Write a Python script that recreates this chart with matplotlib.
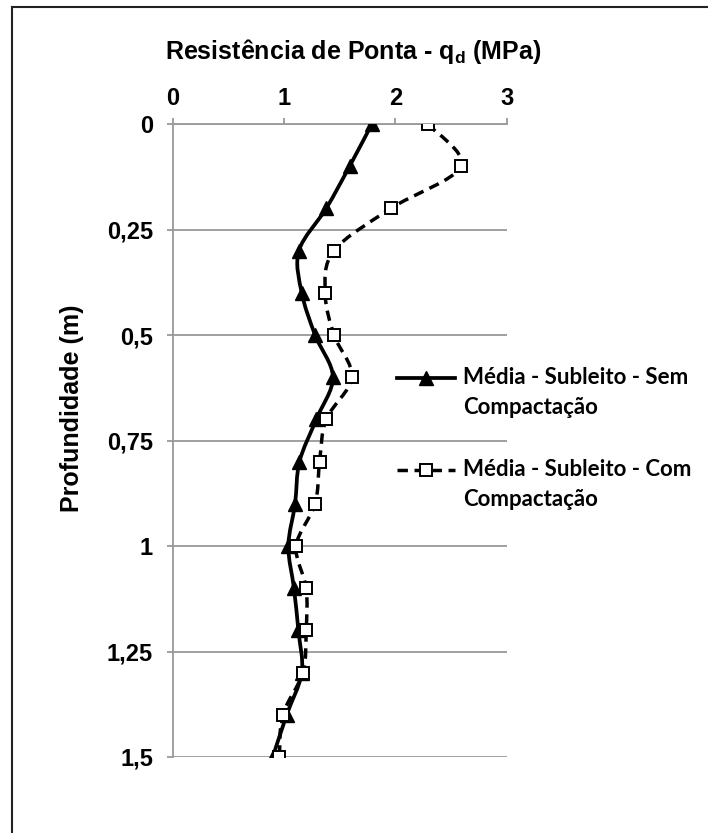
import numpy as np
import matplotlib
matplotlib.use("Agg")
import matplotlib.pyplot as plt
from matplotlib.path import Path
from matplotlib.patches import PathPatch
from matplotlib.lines import Line2D

plt.rcParams['mathtext.fontset'] = 'custom'
plt.rcParams['mathtext.rm'] = 'Liberation Sans:bold'
plt.rcParams['mathtext.bf'] = 'Liberation Sans:bold'
plt.rcParams['mathtext.it'] = 'Liberation Sans:bold'

depth = [0.0, 0.1, 0.2, 0.3, 0.4, 0.5, 0.6, 0.7, 0.8, 0.9, 1.0, 1.1, 1.2, 1.3, 1.4, 1.5]
sem_compactacao = [1.79, 1.59, 1.38, 1.135, 1.16, 1.28, 1.44, 1.29, 1.14, 1.10, 1.04, 1.09, 1.13, 1.16, 1.025, 0.90]
com_compactacao = [2.29, 2.59, 1.96, 1.45, 1.37, 1.45, 1.61, 1.38, 1.32, 1.28, 1.11, 1.20, 1.20, 1.17, 0.99, 0.96]
label_sem = "Média - Subleito - Sem\nCompactação"
label_com = "Média - Subleito - Com\nCompactação"
x_ticks = [0, 1, 2, 3]
y_ticks = [0, 0.25, 0.5, 0.75, 1.0, 1.25, 1.5]
y_ticklabels = ["0", "0,25", "0,5", "0,75", "1", "1,25", "1,5"]

W, H = 708, 833
fig = plt.figure(figsize=(W/100, H/100), dpi=100)
ax = fig.add_axes([172.5/W, 1-757/H, (506.7-172.5)/W, (757-124)/H])

def smooth_path(xs, ys):
    P = np.column_stack([xs, ys]).astype(float)
    n = len(P)
    verts = [P[0]]
    codes = [Path.MOVETO]
    for i in range(n-1):
        p0 = P[i-1] if i > 0 else P[i]
        p1 = P[i]
        p2 = P[i+1]
        p3 = P[i+2] if i+2 < n else P[i+1]
        c1 = p1 + (p2 - p0)/6.0
        c2 = p2 - (p3 - p1)/6.0
        verts += [c1, c2, p2]
        codes += [Path.CURVE4]*3
    return Path(verts, codes)

SOLID = dict(color='black', lw=2.7)
DASH = dict(color='black', lw=2.5, linestyle=(0, (3.0, 1.9)))
TRI = dict(marker='^', ms=9.5, mfc='black', mec='black')
SQ = dict(marker='s', ms=8, mfc='white', mec='black', mew=1.4)

ax.add_patch(PathPatch(smooth_path(sem_compactacao, depth), fill=False,
                       edgecolor='black', lw=SOLID['lw'], zorder=3, capstyle='round'))
ax.add_patch(PathPatch(smooth_path(com_compactacao, depth), fill=False,
                       edgecolor='black', lw=DASH['lw'], linestyle=DASH['linestyle'], zorder=3))
ax.plot(sem_compactacao, depth, linestyle='none', zorder=5, **TRI)
ax.plot(com_compactacao, depth, linestyle='none', zorder=5, **SQ)

ax.set_xlim(0, 3)
ax.set_ylim(1.5, 0)
ax.xaxis.tick_top()
ax.set_xticks(x_ticks)
ax.set_xticklabels([str(t) for t in x_ticks])
ax.set_yticks(y_ticks)
ax.set_yticklabels(y_ticklabels)
ax.grid(axis='y', color='#999999', lw=1.3)
ax.set_axisbelow(True)
for s in ['right', 'bottom']:
    ax.spines[s].set_visible(False)
for s in ['left', 'top']:
    ax.spines[s].set_color('#999999')
    ax.spines[s].set_linewidth(1.3)
ax.tick_params(axis='both', color='#999999', width=1.3, length=4, direction='out')
ax.tick_params(axis='x', pad=6)
ax.tick_params(axis='y', pad=10)
for lab in ax.get_xticklabels() + ax.get_yticklabels():
    lab.set_fontfamily('Liberation Sans')
    lab.set_fontweight('bold')
    lab.set_fontsize(17)

fig.text(353/W, 1-51/H, r'Resistência de Ponta - q$_{\mathregular{d}}$ (MPa)',
         ha='center', va='center', fontsize=18, fontweight='bold',
         family='Liberation Sans')
fig.text(72/W, 1-408/H, 'Profundidade (m)', rotation=90, ha='center', va='center',
         fontsize=18, fontweight='bold', family='Liberation Sans')

# legend (handle aligned with first text line, as in the reference)
legend_entries = [(label_sem, SOLID, TRI, 378), (label_com, DASH, SQ, 470)]
for label, lstyle, mstyle, ypx in legend_entries:
    y = 1 - ypx/H
    fig.add_artist(Line2D([397/W, 455/W], [y, y], transform=fig.transFigure, **lstyle))
    fig.add_artist(Line2D([426/W], [y], transform=fig.transFigure, linestyle='none', **mstyle))
    for k, line in enumerate(label.split('\n')):
        fig.text(463/W, 1-(ypx + 30*k)/H, line, ha='left', va='center',
                 family='Lato', fontweight='bold', fontsize=16)

# outer border (left and top visible)
fig.add_artist(Line2D([11.5/W, 11.5/W], [0, 1-7/H], transform=fig.transFigure,
                      color='#222222', lw=1.5))
fig.add_artist(Line2D([11.5/W, 1], [1-7/H, 1-7/H], transform=fig.transFigure,
                      color='#222222', lw=1.5))

fig.savefig('out.png', dpi=100)
